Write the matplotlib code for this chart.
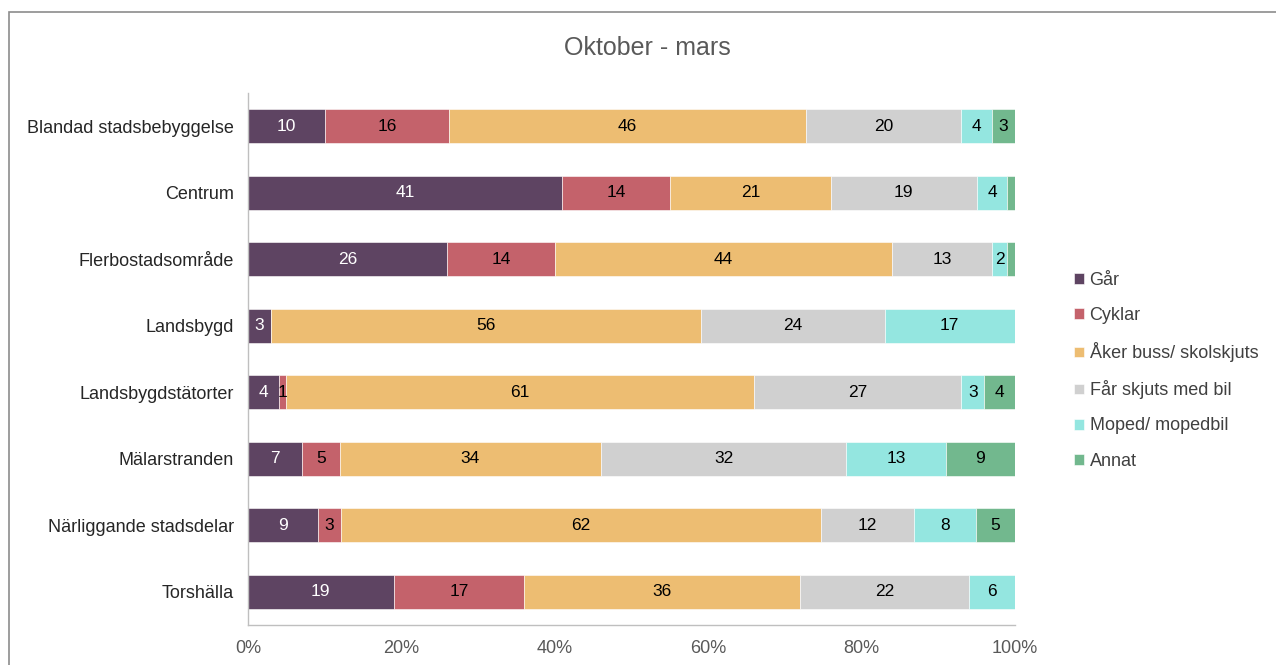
import numpy as np
import matplotlib.pyplot as plt
from matplotlib.patches import Rectangle

plt.rcParams['font.family'] = ['Liberation Sans', 'DejaVu Sans']

omraden = ['Blandad stadsbebyggelse', 'Centrum', 'Flerbostadsområde', 'Landsbygd',
           'Landsbygdstätorter', 'Mälarstranden', 'Närliggande stadsdelar', 'Torshälla']
serier = ['Går', 'Cyklar', 'Åker buss/ skolskjuts', 'Får skjuts med bil',
          'Moped/ mopedbil', 'Annat']

gar = [10, 41, 26, 3, 4, 7, 9, 19]
cyklar = [16, 14, 14, 0, 1, 5, 3, 17]
aker = [46, 21, 44, 56, 61, 34, 62, 36]
far_skjuts = [20, 19, 13, 24, 27, 32, 12, 22]
moped = [4, 4, 2, 17, 3, 13, 8, 6]
annat = [3, 1, 1, 0, 4, 9, 5, 0]
# etiketter som inte visas i originalet (Annat för Centrum och Flerbostadsområde)
dolda = {(1, 5), (2, 5)}

farger = ['#5E4462', '#C4626B', '#EDBD72', '#D0D0D0', '#94E6E0', '#72B88E']
textfarg = ['white', 'black', 'black', 'black', 'black', 'black']

data = np.array([gar, cyklar, aker, far_skjuts, moped, annat], dtype=float)
andel = data / data.sum(axis=0)

fig = plt.figure(figsize=(12.76, 6.65), dpi=100)
ax = fig.add_axes([248/1276, 1-625/665, 767/1276, 532/665])

y = np.arange(len(omraden))
vanster = np.zeros(len(omraden))
for i, namn in enumerate(serier):
    ax.barh(y, andel[i], left=vanster, height=0.51, color=farger[i], label=namn,
            edgecolor='white', linewidth=0.4)
    for j in range(len(omraden)):
        if data[i, j] > 0 and (j, i) not in dolda:
            ax.text(vanster[j] + andel[i, j]/2, y[j], '%d' % data[i, j],
                    ha='center', va='center', fontsize=12.5, color=textfarg[i])
    vanster += andel[i]

ax.set_xlim(0, 1)
ax.set_ylim(len(omraden) - 0.5, -0.5)
ax.set_yticks(y)
ax.set_yticklabels(omraden, fontsize=13, color='#262626')
ax.set_xticks(np.linspace(0, 1, 6))
ax.set_xticklabels(['0%', '20%', '40%', '60%', '80%', '100%'], fontsize=13, color='#595959')
ax.tick_params(axis='y', length=0, pad=10)
ax.tick_params(axis='x', length=0, pad=11)
for s in ['top', 'right']:
    ax.spines[s].set_visible(False)
for s in ['left', 'bottom']:
    ax.spines[s].set_color('#BFBFBF')
    ax.spines[s].set_linewidth(1.0)

fig.text(647/1276, 1-48/665, 'Oktober - mars', ha='center', va='center',
         fontsize=18, color='#595959')

leg = fig.legend(loc='upper left', bbox_to_anchor=(1058/1276, 1-256/665), frameon=False,
                 fontsize=13, handlelength=0.55, handleheight=0.55, handletextpad=0.3,
                 labelspacing=1.0, labelcolor='#404040')

fig.patches.append(Rectangle((9/1276, -0.5), 2, 0.5 + (1-12/665), transform=fig.transFigure,
                             fill=False, edgecolor='#8C8C8C', linewidth=1.2, clip_on=False))

fig.savefig('out.png', dpi=100)
